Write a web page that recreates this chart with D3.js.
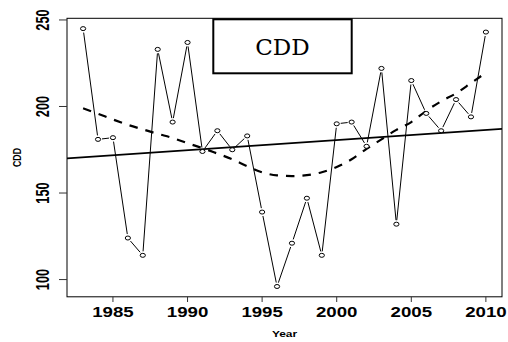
<!DOCTYPE html>
<html><head><meta charset="utf-8">
<script src="https://cdn.jsdelivr.net/npm/d3@7"></script>
<style>
html,body{margin:0;padding:0;background:#fff;}
svg{display:block;}
.serif{font-family:"DejaVu Serif",serif;}
.bold{font-family:"Liberation Sans",Arial,sans-serif;font-weight:bold;}
</style></head>
<body>
<script>
// ---- data ----
const years = d3.range(1983, 2011);
const cdd = [245,181,182,124,114,233,191,237,174,186,175,183,139,96,121,147,114,190,191,177,222,132,215,196,186,204,194,243];
const smooth = [199,195.8,192.5,189.4,186.8,184.2,181.8,178.8,176,172.8,169.5,165.5,162,160.2,159.8,160.3,162,165,169.5,175.5,181,186.5,191,197.5,203,207.6,213.5,219.5];
const trendYears = [1983, 2010];
const trendValues = [170.6, 186.4];
const xTicks = [1985,1990,1995,2000,2005,2010];
const yTicks = [100,150,200,250];
const legendLabel = "CDD";
const xTitle = "Year";
const yTitle = "CDD";

const W = 508, H = 342;
const svg = d3.select("body").append("svg").attr("width", W).attr("height", H);

const x = d3.scaleLinear().domain([1981.92, 2011.08]).range([67, 502]);
const y = d3.scaleLinear().domain([90.04, 250.96]).range([296.8, 18.3]);

// box
svg.append("rect").attr("x", 67).attr("y", 18.3).attr("width", 435).attr("height", 278.5)
  .attr("fill", "none").attr("stroke", "#000").attr("stroke-width", 1);

// y axis ticks
const yAx = svg.append("g");
yAx.selectAll("line").data(yTicks).join("line")
  .attr("x1", 59).attr("x2", 67).attr("y1", d => y(d)).attr("y2", d => y(d))
  .attr("stroke", "#333").attr("stroke-width", 1);
yAx.selectAll("text").data(yTicks).join("text")
  .attr("class", "bold")
  .attr("transform", d => `translate(49.3,${y(d)}) rotate(-90) scale(1,1.38)`)
  .attr("text-anchor", "middle")
  .attr("font-size", 12.8).text(d => d);

// x axis ticks
const xAx = svg.append("g");
xAx.selectAll("line").data(xTicks).join("line")
  .attr("x1", d => x(d)).attr("x2", d => x(d)).attr("y1", 296.8).attr("y2", 302)
  .attr("stroke", "#333").attr("stroke-width", 1);
xAx.selectAll("text").data(xTicks).join("text")
  .attr("class", "bold")
  .attr("transform", d => `translate(${x(d)},316.7) scale(1.22,1)`)
  .attr("text-anchor", "middle")
  .attr("font-size", 15.3).text(d => d);

// titles
svg.append("text").attr("class", "bold").attr("transform", `translate(284.5,336.7) scale(1.27,1)`)
  .attr("text-anchor", "middle")
  .attr("font-size", 9.4).text(xTitle);
svg.append("text").attr("class", "bold").attr("transform", `translate(20.7,157.5) rotate(-90) scale(1,1.17)`)
  .attr("text-anchor", "middle")
  .attr("font-size", 8.8).text(yTitle);

// clip
svg.append("clipPath").attr("id", "clip").append("rect")
  .attr("x", 67).attr("y", 18.3).attr("width", 435).attr("height", 278.5);
const plot = svg.append("g").attr("clip-path", "url(#clip)");

// linear trend across full plot width (abline)
const slope = (trendValues[1] - trendValues[0]) / (trendYears[1] - trendYears[0]);
const tv = t => trendValues[0] + slope * (t - trendYears[0]);
const xd = x.domain();
plot.append("line")
  .attr("x1", x(xd[0])).attr("y1", y(tv(xd[0])))
  .attr("x2", x(xd[1])).attr("y2", y(tv(xd[1])))
  .attr("stroke", "#000").attr("stroke-width", 1.8);

// dashed smooth curve
plot.append("path")
  .attr("d", d3.line().x((d, i) => x(years[i])).y(d => y(d)).curve(d3.curveMonotoneX)(smooth))
  .attr("fill", "none").attr("stroke", "#000").attr("stroke-width", 2.2)
  .attr("stroke-dasharray", "8.5,8");

// series: type "b" segments with gaps
const pts = cdd.map((v, i) => [x(years[i]), y(v)]);
const gap = 4;
const segs = [];
for (let i = 0; i < pts.length - 1; i++) {
  const [x0, y0] = pts[i], [x1, y1] = pts[i + 1];
  const dx = x1 - x0, dy = y1 - y0, L = Math.hypot(dx, dy);
  if (L > 2 * gap) {
    const ux = dx / L, uy = dy / L;
    segs.push([x0 + ux * gap, y0 + uy * gap, x1 - ux * gap, y1 - uy * gap]);
  }
}
plot.append("g").selectAll("line").data(segs).join("line")
  .attr("x1", d => d[0]).attr("y1", d => d[1]).attr("x2", d => d[2]).attr("y2", d => d[3])
  .attr("stroke", "#000").attr("stroke-width", 1);
plot.append("g").selectAll("ellipse").data(cdd).join("ellipse")
  .attr("cx", (d, i) => x(years[i])).attr("cy", d => y(d))
  .attr("rx", 2.6).attr("ry", 2)
  .attr("fill", "#fff").attr("stroke", "#000").attr("stroke-width", 1);

// legend box
svg.append("rect").attr("x", 213.3).attr("y", 19.3).attr("width", 138.4).attr("height", 54)
  .attr("fill", "#fff").attr("stroke", "#000").attr("stroke-width", 2);
svg.append("text").attr("class", "serif").attr("x", 282.5).attr("y", 55)
  .attr("text-anchor", "middle")
  .attr("font-size", 23).text(legendLabel);
</script>
</body></html>
